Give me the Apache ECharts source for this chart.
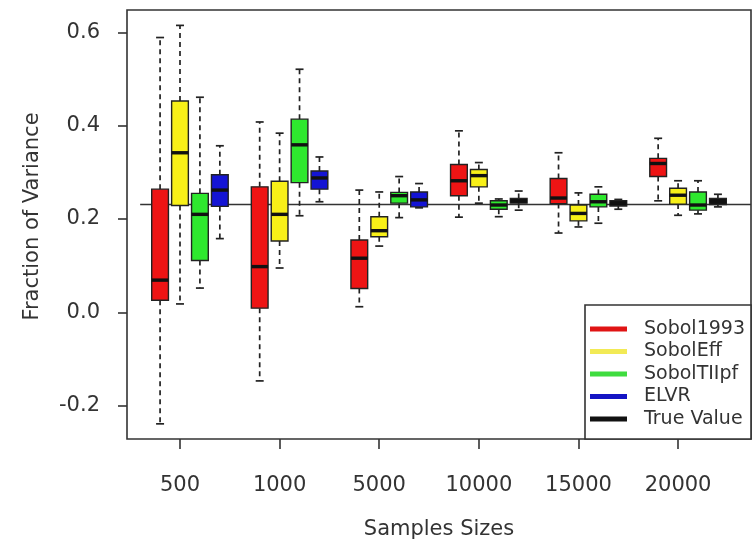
<!DOCTYPE html>
<html>
<head>
<meta charset="utf-8">
<script src="https://cdn.jsdelivr.net/npm/echarts@6/dist/echarts.min.js"></script>
<style>
  html, body { margin: 0; padding: 0; background: #fff; }
  #chart { width: 753px; height: 547px; }
</style>
</head>
<body>
<div id="chart"></div>
<script>
// Sample sizes on the x axis
const sampleSizes = ['500', '1000', '5000', '10000', '15000', '20000'];
const yTicks = [-0.2, 0, 0.2, 0.4, 0.6];

// Box statistics per sample size: [lower whisker, Q1, median, Q3, upper whisker]
const sobol1993 = [
  [-0.239, 0.026, 0.069, 0.264, 0.589],
  [-0.147, 0.009, 0.098, 0.269, 0.408],
  [0.012, 0.051, 0.116, 0.155, 0.262],
  [0.204, 0.250, 0.282, 0.317, 0.389],
  [0.170, 0.233, 0.245, 0.287, 0.342],
  [0.239, 0.291, 0.319, 0.330, 0.373]
];
const sobolEff = [
  [0.018, 0.229, 0.342, 0.453, 0.615],
  [0.095, 0.153, 0.210, 0.281, 0.384],
  [0.142, 0.162, 0.175, 0.205, 0.258],
  [0.234, 0.269, 0.293, 0.306, 0.321],
  [0.183, 0.196, 0.212, 0.230, 0.256],
  [0.208, 0.232, 0.251, 0.266, 0.282]
];
const sobolTIIpf = [
  [0.052, 0.111, 0.210, 0.255, 0.461],
  [0.207, 0.278, 0.359, 0.414, 0.521],
  [0.203, 0.234, 0.250, 0.257, 0.291],
  [0.205, 0.221, 0.230, 0.239, 0.243],
  [0.191, 0.226, 0.237, 0.253, 0.269],
  [0.211, 0.219, 0.230, 0.258, 0.282]
];
const elvr = [
  [0.158, 0.227, 0.262, 0.295, 0.357],
  [0.237, 0.264, 0.288, 0.303, 0.333],
  [0.224, 0.226, 0.241, 0.258, 0.276],
  null,
  null,
  null
];
const trueValue = [
  null,
  null,
  null,
  [0.219, 0.234, 0.239, 0.244, 0.260],
  [0.221, 0.228, 0.234, 0.239, 0.242],
  [0.226, 0.231, 0.238, 0.244, 0.253]
];
const trueValueLine = 0.231;

// Layout: each sample size gets five slots; boxes occupy slots 1-4, tick sits on slot 2
const SLOTS_PER_GROUP = 5;
const TICK_SLOT = 2;
const BOX_W = 0.84;
const CAP_W = 0.4;
const X_MIN = -0.66, X_MAX = 30.66;
const tickPositions = sampleSizes.map((_, g) => g * SLOTS_PER_GROUP + TICK_SLOT);

const methods = [
  { name: 'Sobol1993', stats: sobol1993, slot: 1, color: '#ee1414', legend: '#e01414' },
  { name: 'SobolEff', stats: sobolEff, slot: 2, color: '#f8f018', legend: '#f2ea55' },
  { name: 'SobolTIIpf', stats: sobolTIIpf, slot: 3, color: '#2ee82e', legend: '#3fdc3f' },
  { name: 'ELVR', stats: elvr, slot: 4, color: '#1414d4', legend: '#1414c4' },
  { name: 'True Value', stats: trueValue, slot: 4, color: '#111111', legend: '#111111' }
];

function renderBox(params, api) {
  const x = api.value(0);
  const pLo = api.coord([x, api.value(1)]);
  const pQ1 = api.coord([x, api.value(2)]);
  const pMed = api.coord([x, api.value(3)]);
  const pQ3 = api.coord([x, api.value(4)]);
  const pHi = api.coord([x, api.value(5)]);
  const halfBox = api.size([BOX_W, 0])[0] / 2;
  const halfCap = api.size([CAP_W, 0])[0] / 2;
  const cx = pMed[0];
  const dash = { stroke: '#222', lineWidth: 1.7, lineDash: [5, 4] };
  const solid = { stroke: '#222', lineWidth: 1.7 };
  return {
    type: 'group',
    children: [
      { type: 'line', shape: { x1: cx, y1: pQ3[1], x2: cx, y2: pHi[1] }, style: dash },
      { type: 'line', shape: { x1: cx, y1: pQ1[1], x2: cx, y2: pLo[1] }, style: dash },
      { type: 'line', shape: { x1: cx - halfCap, y1: pHi[1], x2: cx + halfCap, y2: pHi[1] }, style: solid },
      { type: 'line', shape: { x1: cx - halfCap, y1: pLo[1], x2: cx + halfCap, y2: pLo[1] }, style: solid },
      {
        type: 'rect',
        shape: { x: cx - halfBox, y: pQ3[1], width: halfBox * 2, height: pQ1[1] - pQ3[1] },
        style: { fill: api.visual('color'), stroke: '#222', lineWidth: 1.4 }
      },
      { type: 'line', shape: { x1: cx - halfBox, y1: pMed[1], x2: cx + halfBox, y2: pMed[1] }, style: { stroke: '#111', lineWidth: 3.4 } }
    ]
  };
}

const boxSeries = methods.map(m => ({
  name: m.name,
  type: 'custom',
  renderItem: renderBox,
  itemStyle: { color: m.color },
  encode: { x: 0, y: [1, 2, 3, 4, 5] },
  z: 3,
  silent: true,
  data: m.stats
    .map((s, g) => s ? [g * SLOTS_PER_GROUP + m.slot].concat(s) : null)
    .filter(d => d !== null)
}));

const lineSeries = {
  name: 'reference',
  type: 'line',
  data: [[0, trueValueLine], [X_MAX, trueValueLine]],
  symbol: 'none',
  lineStyle: { color: '#333', width: 1.6 },
  z: 1,
  silent: true
};

const font = 'DejaVu Sans';
const chart = echarts.init(document.getElementById('chart'));
chart.setOption({
  animation: false,
  backgroundColor: '#ffffff',
  grid: {
    left: 127, right: 2, top: 10, bottom: 108,
    show: true, borderColor: '#333', borderWidth: 1.6, backgroundColor: 'transparent'
  },
  xAxis: {
    type: 'value',
    min: X_MIN, max: X_MAX,
    name: 'Samples Sizes',
    nameLocation: 'middle',
    nameGap: 80,
    nameTextStyle: { fontFamily: font, fontSize: 21, color: '#333' },
    axisLine: { show: false, onZero: false },
    splitLine: { show: false },
    axisTick: { show: true, customValues: tickPositions, length: 10, lineStyle: { color: '#333', width: 1.6 } },
    axisLabel: {
      customValues: tickPositions,
      margin: 36,
      fontFamily: font, fontSize: 21, color: '#333',
      formatter: v => sampleSizes[Math.round((v - TICK_SLOT) / SLOTS_PER_GROUP)]
    }
  },
  yAxis: {
    type: 'value',
    min: -0.2715, max: 0.648,
    name: 'Fraction of Variance',
    nameLocation: 'middle',
    nameRotate: 90,
    nameGap: 84,
    nameTextStyle: { fontFamily: font, fontSize: 21, color: '#333', padding: [0, 0, 0, 16] },
    axisLine: { show: false, onZero: false },
    splitLine: { show: false },
    axisTick: { show: true, customValues: yTicks, length: 9, lineStyle: { color: '#333', width: 1.6 } },
    axisLabel: {
      customValues: yTicks,
      margin: 27,
      fontFamily: font, fontSize: 21, color: '#333',
      formatter: v => v.toFixed(1)
    }
  },
  legend: {
    data: methods.map(m => ({ name: m.name, itemStyle: { color: m.legend } })),
    orient: 'vertical',
    right: 2,
    bottom: 108,
    icon: 'rect',
    itemWidth: 37,
    itemHeight: 5,
    itemGap: 2.5,
    padding: [14, 6, 10, 5],
    borderColor: '#333',
    borderWidth: 1.6,
    backgroundColor: '#fff',
    selectedMode: false,
    textStyle: { fontFamily: font, fontSize: 19, color: '#333', lineHeight: 20, padding: [0, 0, 0, 12] }
  },
  series: [lineSeries].concat(boxSeries)
});
</script>
</body>
</html>
